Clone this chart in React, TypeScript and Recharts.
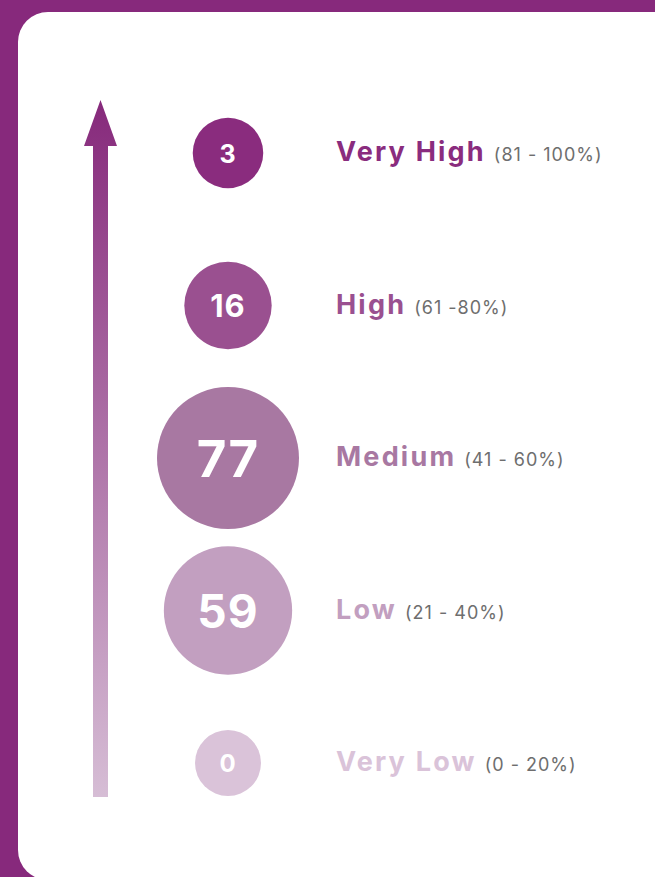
import React from 'react';
import { ScatterChart, Scatter, XAxis, YAxis, ZAxis, Cell } from 'recharts';

const levels = ['Very Low', 'Low', 'Medium', 'High', 'Very High'];
const ranges = ['(0 - 20%)', '(21 - 40%)', '(41 - 60%)', '(61 -80%)', '(81 - 100%)'];
const counts = [0, 59, 77, 16, 3];

const LEVEL_COLORS = ['#dac3d9', '#c29fc0', '#a878a2', '#9a5090', '#8a2c7e'];
const FRAME = '#87297c';

const data = levels.map((name, i) => ({ name, x: 1, level: i, count: counts[i] }));

const Bubble = (props: any) => {
  const { cx, cy, width, fill, payload } = props;
  const r = width / 2;
  return (
    <g>
      <circle cx={cx} cy={cy} r={r} fill={fill} />
      <text
        x={cx}
        y={cy}
        dy={r * 0.27}
        textAnchor="middle"
        fill="#ffffff"
        fontFamily="Inter"
        fontWeight={700}
        fontSize={Math.round(r * 0.72)}
        letterSpacing={1}
      >
        {payload.count}
      </text>
    </g>
  );
};

const LevelTick = (props: any) => {
  const { x, y, payload } = props;
  const i = payload.value;
  return (
    <text x={x} y={y} dy={8} fontFamily="Inter">
      <tspan fontWeight={700} fontSize={27} letterSpacing={2.2} fill={LEVEL_COLORS[i]}>
        {levels[i]}
      </tspan>
      <tspan dx={8} fontSize={18} letterSpacing={1} fill="#6e6e6e">
        {ranges[i]}
      </tspan>
    </text>
  );
};

const ArrowScale = () => (
  <svg width={655} height={877} style={{ position: 'absolute', left: 0, top: 0 }}>
    <defs>
      <linearGradient id="arrowFade" x1="0" y1="0" x2="0" y2="1">
        <stop offset="0%" stopColor="#86297b" />
        <stop offset="100%" stopColor="#d6bdd5" />
      </linearGradient>
    </defs>
    <path d="M100.5 100 L117 146 L108 146 L108 797 L93 797 L93 146 L84 146 Z" fill="url(#arrowFade)" />
  </svg>
);

export default function App() {
  return (
    <div
      style={{
        position: 'fixed',
        left: 0,
        top: 0,
        width: 655,
        height: 877,
        background: FRAME,
        overflow: 'hidden',
      }}
    >
      <div
        style={{
          position: 'absolute',
          left: 18,
          top: 12,
          width: 700,
          height: 868,
          background: '#ffffff',
          borderRadius: 30,
        }}
      />
      <ArrowScale />
      <div style={{ position: 'absolute', left: 0, top: 0 }}>
        <ScatterChart width={655} height={877} margin={{ top: 153, right: 25, bottom: 114, left: 126 }}>
          <XAxis type="number" dataKey="x" domain={[0, 2]} hide />
          <YAxis
            yAxisId={0}
            type="number"
            dataKey="level"
            orientation="right"
            width={300}
            domain={[0, 4]}
            ticks={[0, 1, 2, 3, 4]}
            axisLine={false}
            tickLine={false}
            tickMargin={0}
            tick={<LevelTick />}
            interval={0}
          />
          <ZAxis type="number" dataKey="count" domain={[0, 77]} range={[3421, 15837]} />
          <Scatter data={data} shape={<Bubble />} isAnimationActive={false}>
            {data.map((d, i) => (
              <Cell key={d.name} fill={LEVEL_COLORS[i]} />
            ))}
          </Scatter>
        </ScatterChart>
      </div>
    </div>
  );
}
